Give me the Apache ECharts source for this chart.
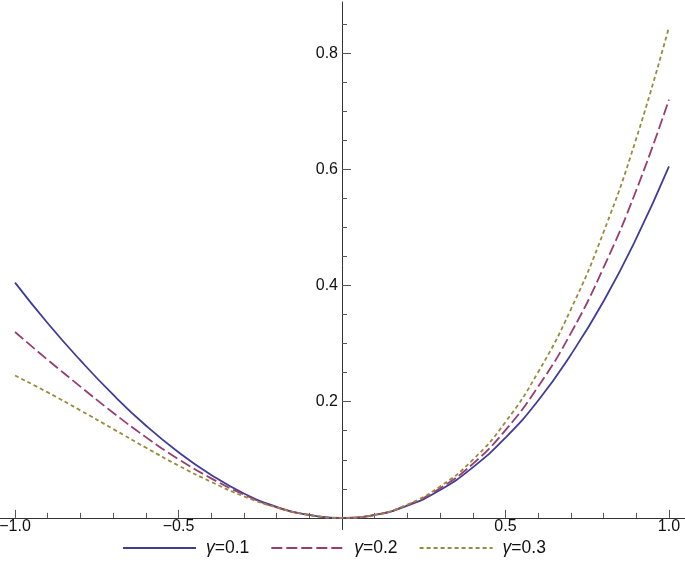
<!DOCTYPE html>
<html>
<head>
<meta charset="utf-8">
<script src="https://cdn.jsdelivr.net/npm/echarts@6/dist/echarts.min.js"></script>
<style>html,body{margin:0;padding:0;background:#fff}#c{width:685px;height:563px}</style>
</head>
<body>
<div id="c"></div>
<script>
const xs = [-1,-0.9,-0.8,-0.7,-0.6,-0.5,-0.4,-0.3,-0.2,-0.1,0,0.1,0.2,0.3,0.4,0.5,0.6,0.7,0.8,0.9,1];
const g01 = [0.405,0.335,0.271,0.212,0.159,0.113,0.074,0.042,0.019,0.005,0,0.005,0.021,0.048,0.087,0.138,0.202,0.281,0.373,0.481,0.605];
const g02 = [0.320,0.272,0.226,0.181,0.139,0.101,0.068,0.040,0.018,0.005,0,0.005,0.022,0.051,0.093,0.151,0.226,0.318,0.431,0.564,0.720];
const g03 = [0.245,0.216,0.185,0.153,0.121,0.090,0.062,0.037,0.018,0.005,0,0.005,0.023,0.054,0.100,0.165,0.251,0.359,0.492,0.653,0.845];
const seriesNames = ['γ=0.1','γ=0.2','γ=0.3'];
const xMajor = [-1,-0.5,0.5,1];
const xMinor = [-0.9,-0.8,-0.7,-0.6,-0.4,-0.3,-0.2,-0.1,0.1,0.2,0.3,0.4,0.6,0.7,0.8,0.9];
const yMajor = [0.2,0.4,0.6,0.8];
const yMinor = [0.05,0.1,0.15,0.25,0.3,0.35,0.45,0.5,0.55,0.65,0.7,0.75,0.85];

const FONT = 'Liberation Sans';
const fmt = v => (v < 0 ? '\u2212' : '') + Math.abs(v).toFixed(1);
const pairs = arr => xs.map((x, i) => [x, arr[i]]);

const X_MIN = -1.046, X_MAX = 1.049, Y_MIN = -0.02, Y_MAX = 0.888;
const xBase = {type:'value', min:X_MIN, max:X_MAX, position:'bottom', splitLine:{show:false}};
const yBase = {type:'value', min:Y_MIN, max:Y_MAX, position:'left', splitLine:{show:false}};
const hidden = {show:false};
const labelStyle = {fontFamily:FONT, fontSize:16, color:'#111'};

const chart = echarts.init(document.getElementById('c'));
chart.setOption({
  animation:false,
  grid:[
    {left:0, right:0, top:2, bottom:33.5, containLabel:false, outerBoundsMode:'none'},
    {left:342, right:0, top:2, bottom:33.5, containLabel:false, outerBoundsMode:'none'},
    {left:0, right:0, top:2, bottom:45.1, containLabel:false, outerBoundsMode:'none'}
  ],
  xAxis:[
    Object.assign({}, xBase, {gridIndex:0,
      axisLine:{onZero:true, onZeroAxisIndex:0, lineStyle:{color:'#333', width:1}},
      axisTick:{inside:true, length:8, customValues:xMajor, lineStyle:{color:'#555'}},
      axisLabel:hidden}),
    Object.assign({}, xBase, {gridIndex:0,
      axisLine:{show:true, onZero:true, onZeroAxisIndex:0, lineStyle:{opacity:0}},
      axisTick:{inside:true, length:5, customValues:xMinor, lineStyle:{color:'#555'}},
      axisLabel:hidden}),
    {type:'value', gridIndex:1, min:0, max:1, show:false},
    Object.assign({}, xBase, {gridIndex:2,
      axisLine:{show:false, onZero:false}, axisTick:hidden,
      axisLabel:Object.assign({customValues:xMajor, formatter:fmt, margin:1}, labelStyle)})
  ],
  yAxis:[
    Object.assign({}, yBase, {gridIndex:0,
      axisLine:{onZero:true, onZeroAxisIndex:0, lineStyle:{color:'#333', width:1}},
      axisTick:{inside:true, length:9, customValues:yMajor, lineStyle:{color:'#555'}},
      axisLabel:hidden}),
    Object.assign({}, yBase, {gridIndex:0,
      axisLine:{show:true, onZero:true, onZeroAxisIndex:0, lineStyle:{opacity:0}},
      axisTick:{inside:true, length:5, customValues:yMinor, lineStyle:{color:'#555'}},
      axisLabel:hidden}),
    Object.assign({}, yBase, {gridIndex:1,
      axisLine:{show:false, onZero:false}, axisTick:hidden,
      axisLabel:Object.assign({customValues:yMajor, formatter:fmt, margin:4}, labelStyle)}),
    {type:'value', gridIndex:2, min:0, max:1, show:false}
  ],
  legend:{
    left:122, top:539, padding:0, itemWidth:73, itemHeight:14, itemGap:21,
    data:seriesNames,
    itemStyle:{color:'rgba(0,0,0,0)', borderColor:'rgba(0,0,0,0)', borderWidth:0, opacity:0},
    formatter: n => '{i|γ}' + n.slice(1),
    textStyle:{fontFamily:FONT, fontSize:17.5, color:'#111', padding:[0,0,0,5],
      rich:{i:{fontFamily:FONT, fontSize:17.5, fontStyle:'italic', color:'#111'}}}
  },
  series:[
    {name:seriesNames[0], type:'line', xAxisIndex:0, yAxisIndex:0, data:pairs(g01), smooth:true, symbol:'none',
      lineStyle:{color:'#3F3D99', width:1.8, type:'solid'}, itemStyle:{color:'#3F3D99'}},
    {name:seriesNames[1], type:'line', xAxisIndex:0, yAxisIndex:0, data:pairs(g02), smooth:true, symbol:'none',
      lineStyle:{color:'#993D71', width:1.8, type:[11,4]}, itemStyle:{color:'#993D71'}},
    {name:seriesNames[2], type:'line', xAxisIndex:0, yAxisIndex:0, data:pairs(g03), smooth:true, symbol:'none',
      lineStyle:{color:'#998B3D', width:1.8, type:[4,3]}, itemStyle:{color:'#998B3D'}}
  ]
});
</script>
</body>
</html>
